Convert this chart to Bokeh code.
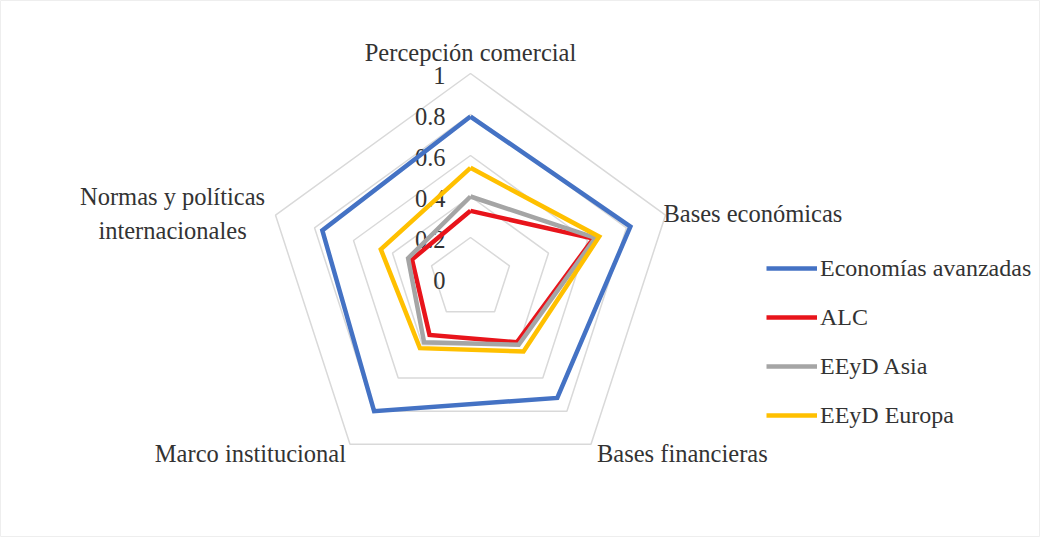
import numpy as np
from bokeh.plotting import figure
from bokeh.models import ColumnDataSource, Legend, LegendItem, Range1d
from bokeh.core.properties import value
from bokeh.embed import file_html
from bokeh.resources import INLINE

# ---- data ----
categories = ["Percepción comercial", "Bases económicas", "Bases financieras",
              "Marco institucional", "Normas y políticas\ninternacionales"]
economias_avanzadas = [0.79, 0.82, 0.72, 0.80, 0.76]
alc = [0.33, 0.63, 0.385, 0.34, 0.30]
eeyd_asia = [0.40, 0.64, 0.40, 0.385, 0.32]
eeyd_europa = [0.54, 0.66, 0.44, 0.42, 0.46]
series_names = ["Economías avanzadas", "ALC", "EEyD Asia", "EEyD Europa"]
series_colors = ["#4472C4", "#E8141B", "#A5A5A5", "#FFC000"]
tick_values = [0, 0.2, 0.4, 0.6, 0.8, 1.0]
tick_labels = ["0", "0.2", "0.4", "0.6", "0.8", "1"]

FONT = "Liberation Serif"
FS = "24.5px"
TXT = "#333333"
W, H = 1040, 537
SCALE = 205.0          # pixels per unit radius
CX, CY = 470.0, 278.0  # centre in figure pixels (from left, from top)

n = len(categories)
angles = np.pi / 2 - 2 * np.pi * np.arange(n) / n

p = figure(width=W, height=H, output_backend="svg", toolbar_location=None,
           x_range=Range1d(-CX / SCALE, (W - CX) / SCALE),
           y_range=Range1d(-(H - CY) / SCALE, CY / SCALE),
           min_border=0)
p.axis.visible = False
p.grid.visible = False
p.outline_line_color = "#eeeeee"
p.outline_line_width = 1
p.background_fill_color = "white"

# grid rings
ring_xs, ring_ys = [], []
for r in tick_values[1:]:
    ring_xs.append(list(r * np.cos(angles)) + [r * np.cos(angles[0])])
    ring_ys.append(list(r * np.sin(angles)) + [r * np.sin(angles[0])])
p.multi_line(ring_xs, ring_ys, line_color="#D9D9D9", line_width=1.5)

# tick labels
p.text(x=[0] * len(tick_values), y=tick_values, text=tick_labels,
       text_font=value(FONT), text_font_size=FS, text_color=TXT,
       text_align="right", text_baseline="middle", x_offset=-25, y_offset=2)

# series
renderers = []
for vals, name, col in zip([economias_avanzadas, alc, eeyd_asia, eeyd_europa],
                           series_names, series_colors):
    v = np.array(vals)
    xs = list(v * np.cos(angles)) + [v[0] * np.cos(angles[0])]
    ys = list(v * np.sin(angles)) + [v[0] * np.sin(angles[0])]
    r = p.line(xs, ys, line_color=col, line_width=4.5, line_join="miter")
    renderers.append(r)

# category labels
lab = ColumnDataSource(dict(
    x=list(np.cos(angles)), y=list(np.sin(angles)), text=categories,
    align=["center", "left", "left", "right", "center"],
    xo=[0, -2, 6, -4, -103], yo=[-21, -2, 9, 9, -2]))
p.text(x="x", y="y", text="text", source=lab, text_align="align",
       x_offset="xo", y_offset="yo", text_baseline="middle",
       text_font=value(FONT), text_font_size=FS, text_color=TXT,
       text_line_height=1.25)

legend = Legend(items=[LegendItem(label=nm, renderers=[r])
                       for nm, r in zip(series_names, renderers)],
                location=(766, 107), orientation="vertical",
                label_text_font=FONT, label_text_font_size="24px",
                label_text_color=TXT, glyph_width=51, glyph_height=30,
                label_height=30, spacing=19, padding=0, margin=0,
                label_standoff=3, background_fill_alpha=0, border_line_alpha=0)
p.add_layout(legend, "center")

open("out.html", "w").write(file_html(p, INLINE))
